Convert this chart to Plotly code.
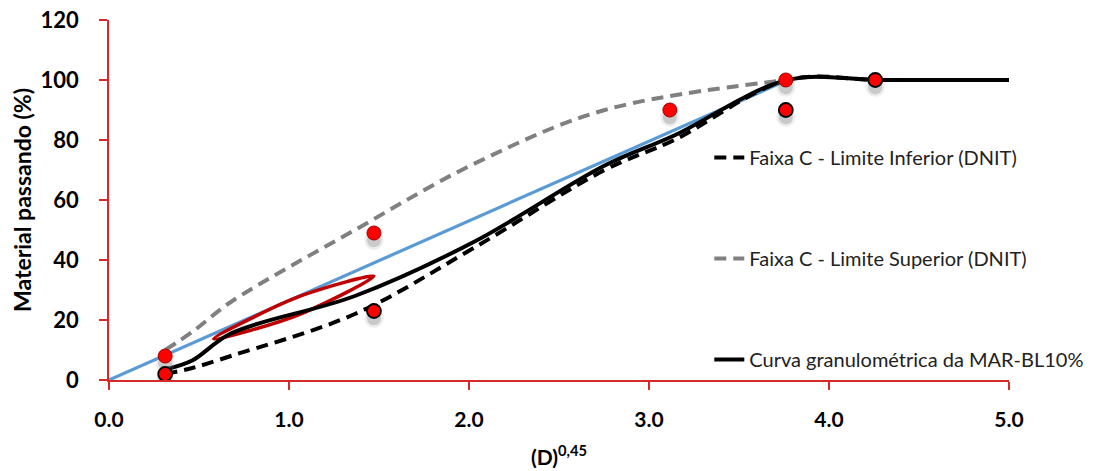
import plotly.graph_objects as go

# ---- data (x = D^0.45) ----
lower_x = [0.312, 0.462, 0.677, 1.366, 2.026, 2.754, 3.14, 3.77, 4.29, 5.0]
lower_y = [2, 4, 8, 22, 44, 70, 80, 100, 100, 100]

upper_x = [0.312, 0.462, 0.677, 1.366, 2.026, 2.754, 3.77]
upper_y = [10, 16, 26, 50, 72, 90, 100]

mix_x = [0.312, 0.462, 0.677, 1.366, 2.026, 2.754, 3.14, 3.77, 4.29, 5.0]
mix_y = [3.5, 6.5, 15.5, 28, 46, 71.5, 81.5, 100, 100, 100]

maxdens_x = [0, 3.77]
maxdens_y = [0, 100]

rz_x = [0.582, 0.795, 1.077, 1.472, 1.077, 0.795, 0.582]
rz_y = [13.7, 20.7, 28.3, 34.6, 22.3, 16.7, 13.7]

cpu_x = [0.312, 1.472, 3.116, 3.76]
cpu_y = [8, 49, 90, 100]
cpl_x = [0.312, 1.472, 3.76, 4.257]
cpl_y = [2, 23, 90, 100]

x_ticks = [0, 1, 2, 3, 4, 5]
x_ticktext = ["0.0", "1.0", "2.0", "3.0", "4.0", "5.0"]
y_ticks = [0, 20, 40, 60, 80, 100, 120]
y_ticktext = ["0", "20", "40", "60", "80", "100", "120"]

FONT = "Lato"
AXIS_RED = "#d42a2a"
SHADOW_DY = 2.4
PAD = "\u00a0\u00a0\u00a0"

fig = go.Figure()

# max density line
fig.add_trace(go.Scatter(x=maxdens_x, y=maxdens_y, mode="lines",
                         line=dict(color="#5b9bd5", width=3.2), showlegend=False))
# upper limit
fig.add_trace(go.Scatter(x=upper_x, y=upper_y, mode="lines", name="Faixa C - Limite Superior (DNIT)",
                         line=dict(color="#808080", width=4, dash="12px,7px", shape="spline"),
                         legendgroup="b", legendrank=2))
# lower limit
fig.add_trace(go.Scatter(x=lower_x, y=lower_y, mode="lines", name="Faixa C - Limite Inferior (DNIT)",
                         line=dict(color="#000000", width=4, dash="12px,7px", shape="spline"),
                         legendgroup="a", legendrank=1))
# restricted zone
fig.add_trace(go.Scatter(x=rz_x, y=rz_y, mode="lines",
                         line=dict(color="#c00000", width=3.5, shape="spline"), showlegend=False))
# mixture curve
fig.add_trace(go.Scatter(x=mix_x, y=mix_y, mode="lines", name="Curva granulométrica da MAR-BL10%",
                         line=dict(color="#000000", width=4, shape="spline"),
                         legendgroup="c", legendrank=3))

# shadows of control points
for xs, ys in ((cpu_x, cpu_y), (cpl_x, cpl_y)):
    sy = [v - SHADOW_DY for v in ys]
    fig.add_trace(go.Scatter(x=xs, y=sy, mode="markers", showlegend=False,
                             marker=dict(size=19, color="rgba(150,150,150,0.18)", line=dict(width=0))))
    fig.add_trace(go.Scatter(x=xs, y=sy, mode="markers", showlegend=False,
                             marker=dict(size=14, color="rgba(140,140,140,0.35)", line=dict(width=0))))

# control points
fig.add_trace(go.Scatter(x=cpu_x, y=cpu_y, mode="markers", showlegend=False,
                         marker=dict(size=14, color="#ff0000", line=dict(color="#a00000", width=1))))
fig.add_trace(go.Scatter(x=cpl_x, y=cpl_y, mode="markers", showlegend=False,
                         marker=dict(size=14, color="#ff0000", line=dict(color="#000000", width=1.8))))

fig.update_layout(
    width=1096, height=463,
    margin=dict(l=101, r=95, t=12, b=91),
    paper_bgcolor="white", plot_bgcolor="white",
    font=dict(family=FONT, color="black"),
    legend=dict(x=0.667, y=0.672, xanchor="left", yanchor="top",
                traceorder="grouped", tracegroupgap=72,
                font=dict(family=FONT, size=20, color="#222222"),
                bgcolor="rgba(0,0,0,0)", borderwidth=0),
    xaxis=dict(range=[0, 5], tickvals=x_ticks, ticktext=x_ticktext, automargin=False,
               showgrid=False, zeroline=False,
               showline=True, linecolor=AXIS_RED, linewidth=1.5,
               ticks="outside", ticklen=8, tickcolor=AXIS_RED, tickwidth=1.5,
               ticklabelstandoff=12, ticklabeloverflow="allow",
               tickfont=dict(family=FONT, size=21, color="black", weight="bold"),
               title=dict(text="<b>(D)<sup>0,45</sup></b>", standoff=20,
                          font=dict(family=FONT, size=21, color="black"))),
    yaxis=dict(range=[0, 120], tickvals=y_ticks, ticktext=[t + PAD for t in y_ticktext],
               automargin=False, ticklabeloverflow="allow",
               showgrid=False, zeroline=False,
               showline=True, linecolor=AXIS_RED, linewidth=1.5,
               ticks="outside", ticklen=8, tickcolor=AXIS_RED, tickwidth=1.5,
               tickfont=dict(family=FONT, size=22, color="black", weight="bold")),
    annotations=[dict(text="<b>Material passando (%)</b>", textangle=-90,
                      xref="paper", yref="paper", x=0, y=0.5, xanchor="center", yanchor="middle",
                      xshift=-87, showarrow=False,
                      font=dict(family=FONT, size=23, color="black"))],
)

fig.write_html("out.html")
